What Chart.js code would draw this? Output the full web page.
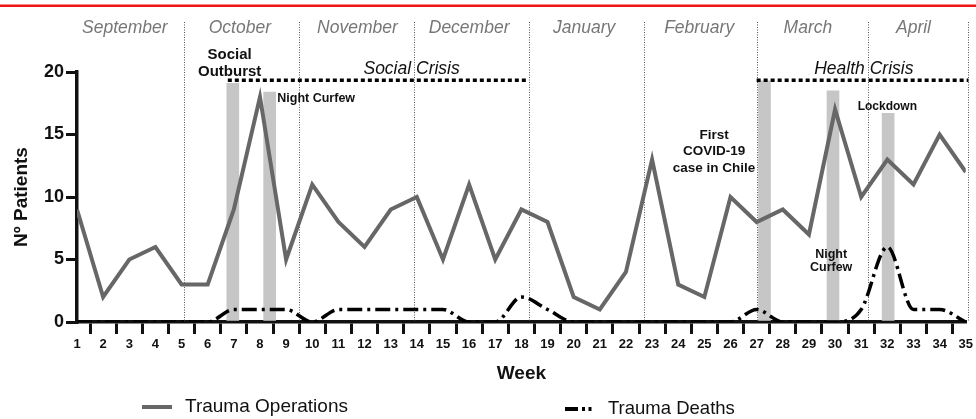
<!DOCTYPE html>
<html>
<head>
<meta charset="utf-8">
<script src="https://cdn.jsdelivr.net/npm/chart.js@4.4.1/dist/chart.umd.min.js"></script>
<style>
  html, body { margin: 0; padding: 0; background: #fff; }
</style>
</head>
<body>
<canvas id="myChart" width="976" height="419"></canvas>
<script>
// Weekly values
const weeks = [1, 2, 3, 4, 5, 6, 7, 8, 9, 10, 11, 12, 13, 14, 15, 16, 17, 18,
  19, 20, 21, 22, 23, 24, 25, 26, 27, 28, 29, 30, 31, 32, 33, 34, 35];
const traumaOperations = [9, 2, 5, 6, 3, 3, 9, 18, 5, 11, 8, 6, 9, 10, 5, 11, 5, 9,
  8, 2, 1, 4, 13, 3, 2, 10, 8, 9, 7, 17, 10, 13, 11, 15, 12];
const traumaDeaths = [0, 0, 0, 0, 0, 0, 1, 1, 1, 0, 1, 1, 1, 1, 1, 0, 0, 2,
  1, 0, 0, 0, 0, 0, 0, 0, 1, 0, 0, 0, 1, 6, 1, 1, 0];

// Months across the top (week where the name sits, week where the month ends)
const monthNames = ["September", "October", "November", "December", "January", "February", "March", "April"];
const monthCenters = [2.83, 7.23, 11.73, 16.0, 20.4, 24.8, 28.96, 33.0];
const monthDividers = [5.1, 9.5, 13.9, 18.3, 22.7, 27.0, 31.25, 35.1];

// Crisis periods (dotted line)
const crisisNames = ["Social Crisis", "Health Crisis"];
const crisisStart = [6.77, 27.0];
const crisisEnd = [18.2, 35.1];
const crisisNameWeek = [13.8, 31.1];
const crisisLevel = 19.35;

// Events (shaded bars)
const eventWeeks = [6.96, 8.37, 27.3, 29.92, 32.03];
const eventTops = [19.1, 18.4, 19.3, 18.5, 16.7];
const eventLabels = [["Social", "Outburst"], ["Night Curfew"], ["First", "COVID-19", "case in Chile"], ["Night", "Curfew"], ["Lockdown"]];
const eventLabelWeek = [6.84, 10.15, 25.37, 29.85, 32.0];
const eventLabelValue = [21.4, 17.9, 14.96, 5.36, 17.2];

Chart.defaults.font.family = "'Liberation Sans', Arial, sans-serif";
Chart.defaults.color = "#111";

const eventFont = [15, 12.5, 13.5, 12.5, 12];
const eventLineGap = [17, 13, 16.5, 12.5, 13];

const overlay = {
  id: "overlay",
  beforeDatasetsDraw(chart) {
    const { ctx, scales: { x, y } } = chart;
    ctx.save();
    ctx.strokeStyle = "#555";
    ctx.lineWidth = 1;
    ctx.setLineDash([1, 1.5]);
    monthDividers.forEach((w) => {
      const px = Math.round(x.getPixelForValue(w)) + 0.5;
      ctx.beginPath();
      ctx.moveTo(px, y.getPixelForValue(24));
      ctx.lineTo(px, y.getPixelForValue(0));
      ctx.stroke();
    });
    ctx.restore();
  },
  afterDatasetsDraw(chart) {
    const { ctx, scales: { x, y } } = chart;
    ctx.save();
    // crisis dotted lines
    ctx.strokeStyle = "#000";
    ctx.lineWidth = 3.5;
    ctx.setLineDash([4, 3]);
    crisisStart.forEach((s, i) => {
      const py = y.getPixelForValue(crisisLevel);
      ctx.beginPath();
      ctx.moveTo(x.getPixelForValue(s), py);
      ctx.lineTo(x.getPixelForValue(crisisEnd[i]), py);
      ctx.stroke();
    });
    ctx.setLineDash([]);

    ctx.textAlign = "center";
    ctx.textBaseline = "middle";

    // month names
    ctx.fillStyle = "#777";
    ctx.font = "italic 17.5px 'Liberation Sans', Arial, sans-serif";
    monthNames.forEach((m, i) => {
      ctx.fillText(m, x.getPixelForValue(monthCenters[i]), y.getPixelForValue(23.5));
    });

    // crisis names
    ctx.fillStyle = "#111";
    crisisNames.forEach((c, i) => {
      ctx.fillText(c, x.getPixelForValue(crisisNameWeek[i]), y.getPixelForValue(20.2));
    });

    // event labels
    eventLabels.forEach((lines, i) => {
      ctx.font = "bold " + eventFont[i] + "px 'Liberation Sans', Arial, sans-serif";
      const px = x.getPixelForValue(eventLabelWeek[i]);
      const py = y.getPixelForValue(eventLabelValue[i]);
      lines.forEach((t, j) => ctx.fillText(t, px, py + j * eventLineGap[i]));
    });
    ctx.restore();
  },
  afterDraw(chart) {
    const { ctx } = chart;
    ctx.save();
    // red rule at the top
    ctx.fillStyle = "#f01414";
    ctx.fillRect(0, 4.5, chart.width, 2.5);

    // legend
    const ops = chart.data.datasets[1];
    const dth = chart.data.datasets[2];
    ctx.strokeStyle = ops.borderColor;
    ctx.lineWidth = 4;
    ctx.beginPath();
    ctx.moveTo(142, 407);
    ctx.lineTo(172, 407);
    ctx.stroke();

    ctx.strokeStyle = dth.borderColor;
    ctx.setLineDash([13, 4, 3, 3.5, 3, 30]);
    ctx.beginPath();
    ctx.moveTo(565, 409);
    ctx.lineTo(594, 409);
    ctx.stroke();
    ctx.setLineDash([]);

    ctx.fillStyle = "#111";
    ctx.font = "19px 'Liberation Sans', Arial, sans-serif";
    ctx.textAlign = "left";
    ctx.textBaseline = "middle";
    ctx.fillText(ops.label, 185, 407);
    ctx.font = "18.5px 'Liberation Sans', Arial, sans-serif";
    ctx.fillText(dth.label, 608, 409);
    ctx.restore();
  },
};

const ctx = document.getElementById("myChart");
const chart = new Chart(ctx, {
  type: "line",
  data: {
    datasets: [
      {
        type: "bar",
        label: "Events",
        data: eventWeeks.map((w, i) => ({ x: w, y: eventTops[i] })),
        backgroundColor: "#c6c6c6",
        borderWidth: 0,
        barThickness: 12,
        order: 3,
      },
      {
        label: "Trauma Operations",
        data: weeks.map((w, i) => ({ x: w, y: traumaOperations[i] })),
        borderColor: "#676767",
        borderWidth: 4,
        pointRadius: 0,
        tension: 0,
        order: 2,
      },
      {
        label: "Trauma Deaths",
        data: weeks.map((w, i) => ({ x: w, y: traumaDeaths[i] })),
        borderColor: "#000",
        borderWidth: 3.5,
        borderDash: [15, 5, 3, 5],
        pointRadius: 0,
        cubicInterpolationMode: "monotone",
        order: 1,
      },
    ],
  },
  options: {
    responsive: false,
    animation: false,
    layout: { padding: { top: 72, right: 9, left: 0, bottom: 0 } },
    plugins: {
      legend: { display: false },
      tooltip: { enabled: false },
    },
    scales: {
      x: {
        type: "linear",
        min: 1,
        max: 35,
        offset: false,
        afterFit: (s) => { s.height = 97; },
        ticks: {
          stepSize: 1,
          autoSkip: false,
          maxRotation: 0,
          padding: 3,
          color: "#111",
          font: { size: 13, weight: "bold" },
        },
        grid: {
          drawOnChartArea: false,
          drawTicks: true,
          tickLength: 12,
          lineWidth: 3,
          color: "#111",
        },
        border: { display: true, color: "#111", width: 3.5 },
        title: {
          display: true,
          text: "Week",
          color: "#111",
          font: { size: 19, weight: "bold" },
          padding: { top: 0, bottom: 34 },
        },
      },
      y: {
        min: 0,
        max: 20,
        afterFit: (s) => { s.width = 77; },
        ticks: {
          stepSize: 5,
          padding: 2,
          color: "#111",
          font: { size: 18, weight: "bold" },
        },
        grid: {
          drawOnChartArea: false,
          drawTicks: true,
          tickLength: 11,
          lineWidth: 3,
          color: "#111",
        },
        border: { display: true, color: "#111", width: 3.5 },
        title: {
          display: true,
          text: "Nº Patients",
          color: "#111",
          font: { size: 19, weight: "bold" },
          padding: { top: 10, bottom: 0 },
        },
      },
    },
  },
  plugins: [overlay],
});
</script>
</body>
</html>
